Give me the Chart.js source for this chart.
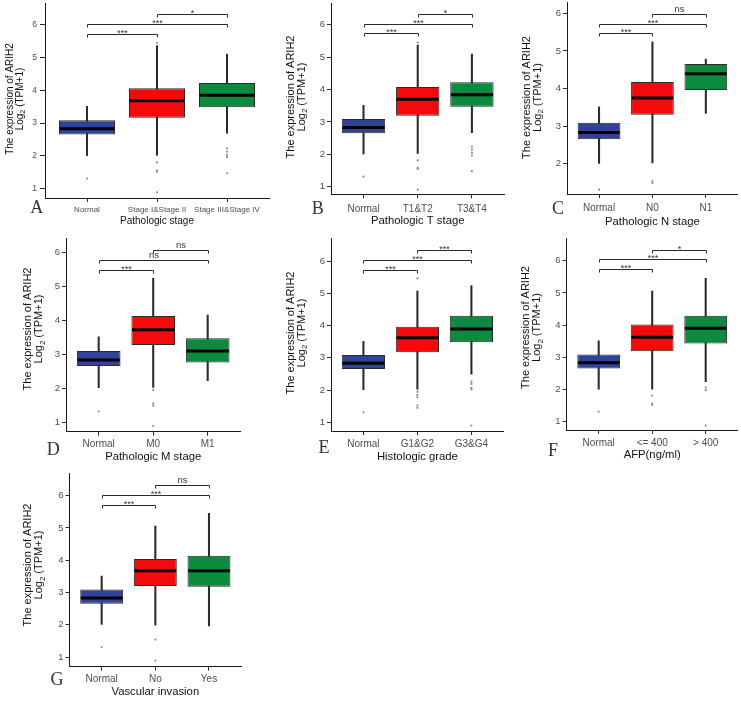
<!DOCTYPE html>
<html>
<head>
<meta charset="utf-8">
<script src="https://cdn.jsdelivr.net/npm/chart.js@4.4.0/dist/chart.umd.min.js"></script>
<style>
html,body{margin:0;padding:0;background:#fff;width:741px;height:702px;overflow:hidden;}
canvas{position:absolute;left:0;top:0;}
</style>
</head>
<body>
<canvas id="cA" width="741" height="702"></canvas>
<canvas id="cB" width="741" height="702"></canvas>
<canvas id="cC" width="741" height="702"></canvas>
<canvas id="cD" width="741" height="702"></canvas>
<canvas id="cE" width="741" height="702"></canvas>
<canvas id="cF" width="741" height="702"></canvas>
<canvas id="cG" width="741" height="702"></canvas>
<script>
// ---------- DATA ----------
// box stats: [lower whisker, Q1, median, Q3, upper whisker]
const groupColors = ['#31429a', '#f40a0a', '#0c8a3d'];
const sigPairs = [[1, 2], [1, 3], [2, 3]];
const yTitleLine1 = 'The expression of ARIH2';
const yTitleLine2 = ['Log', '2', ' (TPM+1)'];

const normalBox = [2.01, 2.65, 2.83, 3.09, 3.51];
const normalOut = [1.31];

const catsA = ['Normal', 'Stage I&Stage II', 'Stage III&Stage IV'];
const boxA = [normalBox, [2.02, 3.16, 3.68, 4.06, 5.36], [2.69, 3.48, 3.85, 4.22, 5.10]];
const outA = [normalOut, [5.45, 1.80, 1.55, 1.52, 0.89], [2.23, 2.13, 2.03, 1.96, 1.47]];
const sigA = ['***', '***', '*'];
const sigYA = [5.71, 6.03, 6.33];
const yTicksA = [1, 2, 3, 4, 5, 6];

const catsB = ['Normal', 'T1&T2', 'T3&T4'];
const boxB = [normalBox, [2.03, 3.19, 3.70, 4.08, 5.37], [2.67, 3.47, 3.84, 4.22, 5.09]];
const outB = [normalOut, [5.45, 1.81, 1.58, 1.55, 0.91], [2.23, 2.14, 2.05, 1.96, 1.48]];
const sigB = ['***', '***', '*'];
const sigYB = [5.73, 6.03, 6.33];
const yTicksB = [1, 2, 3, 4, 5, 6];

const catsC = ['Normal', 'N0', 'N1'];
const boxC = [normalBox, [2.02, 3.30, 3.75, 4.17, 5.24], [3.34, 3.96, 4.39, 4.65, 4.78]];
const outC = [normalOut, [1.54, 1.49], []];
const sigC = ['***', '***', 'ns'];
const sigYC = [5.47, 5.72, 5.99];
const yTicksC = [2, 3, 4, 5, 6];

const catsD = ['Normal', 'M0', 'M1'];
const boxD = [normalBox, [2.02, 3.27, 3.72, 4.12, 5.23], [2.22, 2.75, 3.09, 3.47, 4.15]];
const outD = [normalOut, [1.94, 1.55, 1.48, 0.88], []];
const sigD = ['***', 'ns', 'ns'];
const sigYD = [5.48, 5.78, 6.06];
const yTicksD = [1, 2, 3, 4, 5, 6];

const catsE = ['Normal', 'G1&G2', 'G3&G4'];
const boxE = [normalBox, [2.03, 3.17, 3.62, 3.96, 5.07], [2.49, 3.48, 3.89, 4.30, 5.24]];
const outE = [normalOut, [5.46, 1.95, 1.85, 1.77, 1.52, 1.45], [2.26, 2.19, 2.07, 2.02, 0.90]];
const sigE = ['***', '***', '***'];
const sigYE = [5.73, 6.03, 6.34];
const yTicksE = [1, 2, 3, 4, 5, 6];

const catsF = ['Normal', '<= 400', '> 400'];
const boxF = [normalBox, [2.01, 3.19, 3.62, 4.02, 5.06], [2.24, 3.43, 3.90, 4.29, 5.45]];
const outF = [normalOut, [1.81, 1.56, 1.52], [2.06, 1.98, 0.88]];
const sigF = ['***', '***', '*'];
const sigYF = [5.73, 6.05, 6.34];
const yTicksF = [1, 2, 3, 4, 5, 6];

const catsG = ['Normal', 'No', 'Yes'];
const boxG = [normalBox, [1.99, 3.20, 3.67, 4.04, 5.06], [1.96, 3.18, 3.67, 4.14, 5.45]];
const outG = [normalOut, [1.54, 0.89], []];
const sigG = ['***', '***', 'ns'];
const sigYG = [5.71, 6.02, 6.33];
const yTicksG = [1, 2, 3, 4, 5, 6];

// ---------- LAYOUT (pixels / styles) ----------
const W = 741, H = 702;
const FONT = '"Liberation Sans", Arial, Helvetica, sans-serif';
const SERIF = '"Liberation Serif", "Times New Roman", serif';

const small = {fTickY: 8.5, fTickX: 8, fTitle: 10, fYTitle: 10, fSig: 9, fNs: 9.5, yTl: 5, yPad: 3};
const big = {fTickY: 9.5, fTickX: 10, fTitle: 11.3, fYTitle: 11, fSig: 9, fNs: 9.5, yTl: 4, yPad: 2};

const panels = [
  {id: 'cA', letter: 'A', title: 'Pathologic stage', cats: catsA, boxes: boxA, outs: outA, sig: sigA, sigY: sigYA, yTicks: yTicksA,
   lay: Object.assign({}, small, {axL: 45, sp: 70, axT: 3, axB: 198, t1: [6, 24.7], t2: [1, 188.7], xPad: 3.2, yt1x: 10.5, yt2x: 20, ytc: 99, xtY: 221.7, lx: 36.7, ly: 208})},
  {id: 'cB', letter: 'B', title: 'Pathologic T stage', cats: catsB, boxes: boxB, outs: outB, sig: sigB, sigY: sigYB, yTicks: yTicksB,
   lay: Object.assign({}, big, {axL: 331, sp: 54.2, axT: 3, axB: 194.3, t1: [6, 24.7], t2: [1, 186.7], xPad: 4.7, yt1x: 290.7, yt2x: 301.5, ytc: 97, xtY: 221, lx: 317.8, ly: 209})},
  {id: 'cC', letter: 'C', title: 'Pathologic N stage', cats: catsC, boxes: boxC, outs: outC, sig: sigC, sigY: sigYC, yTicks: yTicksC,
   lay: Object.assign({}, big, {axL: 567, sp: 53.4, axT: 2, axB: 194, t1: [6, 13.3], t2: [2, 163.7], xPad: 4.3, yt1x: 526.7, yt2x: 537.5, ytc: 97.5, xtY: 221.7, lx: 558, ly: 209.5})},
  {id: 'cD', letter: 'D', title: 'Pathologic M stage', cats: catsD, boxes: boxD, outs: outD, sig: sigD, sigY: sigYD, yTicks: yTicksD,
   lay: Object.assign({}, big, {axL: 66, sp: 54.5, axT: 238, axB: 431.7, t1: [6, 252.3], t2: [1, 422], xPad: 2.6, yt1x: 28.3, yt2x: 39, ytc: 329, xtY: 456.7, lx: 53.3, ly: 450})},
  {id: 'cE', letter: 'E', title: 'Histologic grade', cats: catsE, boxes: boxE, outs: outE, sig: sigE, sigY: sigYE, yTicks: yTicksE,
   lay: Object.assign({}, big, {axL: 331, sp: 54, axT: 238, axB: 431, t1: [6, 261], t2: [1, 422.3], xPad: 3.5, yt1x: 290.7, yt2x: 301.5, ytc: 333, xtY: 456.7, lx: 324, ly: 448.7})},
  {id: 'cF', letter: 'F', title: 'AFP(ng/ml)', cats: catsF, boxes: boxF, outs: outF, sig: sigF, sigY: sigYF, yTicks: yTicksF,
   lay: Object.assign({}, big, {axL: 566.6, sp: 53.5, axT: 238.3, axB: 430, t1: [6, 260.7], t2: [1, 421.7], xPad: 3.5, yt1x: 526, yt2x: 537, ytc: 327.5, xtY: 455, lx: 553, ly: 450.8})},
  {id: 'cG', letter: 'G', title: 'Vascular invasion', cats: catsG, boxes: boxG, outs: outG, sig: sigG, sigY: sigYG, yTicks: yTicksG,
   lay: Object.assign({}, big, {axL: 69.5, sp: 53.65, axT: 473.3, axB: 666.7, t1: [6, 495.7], t2: [1, 657], xPad: 2.8, yt1x: 28.3, yt2x: 39, ytc: 565, xtY: 691.7, lx: 57, ly: 680})}
];

function font(sz) { return sz + 'px ' + FONT; }

function annotPlugin(p) {
  return {
    id: 'annot' + p.letter,
    afterDraw(chart) {
      const ctx = chart.ctx, L = p.lay;
      const xs = chart.scales.x, ys = chart.scales.y;
      ctx.save();
      // significance brackets
      ctx.strokeStyle = '#2b2b2b';
      ctx.lineWidth = 1;
      p.sigY.forEach((yv, k) => {
        const pr = sigPairs[k];
        const x1 = Math.round(xs.getPixelForValue(pr[0])) + 0.5;
        const x2 = Math.round(xs.getPixelForValue(pr[1])) + 0.5;
        const y = Math.round(ys.getPixelForValue(yv)) + 0.5;
        ctx.beginPath();
        ctx.moveTo(x1, y + 3);
        ctx.lineTo(x1, y);
        ctx.lineTo(x2, y);
        ctx.lineTo(x2, y + 3);
        ctx.stroke();
        const lab = p.sig[k];
        ctx.fillStyle = '#333';
        ctx.textAlign = 'center';
        ctx.textBaseline = 'alphabetic';
        if (lab === 'ns') {
          ctx.font = font(L.fNs);
          ctx.fillText(lab, (x1 + x2) / 2, y - 2.2);
        } else {
          ctx.font = font(L.fSig);
          ctx.fillText(lab, (x1 + x2) / 2, y + 1.5);
        }
      });
      // x axis title
      ctx.fillStyle = '#111';
      ctx.font = font(L.fTitle);
      ctx.textAlign = 'center';
      ctx.textBaseline = 'middle';
      ctx.fillText(p.title, (chart.chartArea.left + chart.chartArea.right) / 2, L.xtY);
      // y axis title line 1
      ctx.save();
      ctx.translate(L.yt1x, L.ytc);
      ctx.rotate(-Math.PI / 2);
      ctx.font = font(L.fYTitle);
      ctx.fillText(yTitleLine1, 0, 0);
      ctx.restore();
      // y axis title line 2 with subscript
      ctx.save();
      ctx.translate(L.yt2x, L.ytc);
      ctx.rotate(-Math.PI / 2);
      const f = L.fYTitle, fs = f * 0.72;
      ctx.font = font(f);
      const w1 = ctx.measureText(yTitleLine2[0]).width;
      const w3 = ctx.measureText(yTitleLine2[2]).width;
      ctx.font = font(fs);
      const w2 = ctx.measureText(yTitleLine2[1]).width;
      let x = -(w1 + w2 + w3) / 2;
      ctx.textAlign = 'left';
      ctx.font = font(f);
      ctx.fillText(yTitleLine2[0], x, 0); x += w1;
      ctx.font = font(fs);
      ctx.fillText(yTitleLine2[1], x, f * 0.32); x += w2;
      ctx.font = font(f);
      ctx.fillText(yTitleLine2[2], x, 0);
      ctx.restore();
      // panel letter
      ctx.fillStyle = '#333';
      ctx.font = '18px ' + SERIF;
      ctx.textAlign = 'center';
      ctx.textBaseline = 'middle';
      ctx.fillText(p.letter, L.lx, L.ly);
      ctx.restore();
    }
  };
}

function makeChart(p) {
  const L = p.lay;
  const ppu = (L.t2[1] - L.t1[1]) / (L.t1[0] - L.t2[0]);
  const yMax = L.t1[0] + (L.t1[1] - L.axT) / ppu;
  const yMin = L.t2[0] - (L.axB - L.t2[1]) / ppu;
  const right = L.axL + 3.2 * L.sp;
  const yW = 40, xH = 30;

  const whiskers = p.boxes.map((b, i) => ({x: i + 1, y: [b[0], b[4]]}));
  const boxes = p.boxes.map((b, i) => ({x: i + 1, y: [b[1], b[3]]}));
  const medians = p.boxes.map((b, i) => ({x: i + 1, y: b[2]}));
  const outliers = p.outs.flatMap((arr, i) => arr.map(v => ({x: i + 1, y: v})));

  new Chart(document.getElementById(p.id), {
    type: 'bar',
    data: {
      datasets: [
        {type: 'bar', order: 4, data: whiskers, backgroundColor: '#2b2b2b', borderWidth: 0,
         barThickness: 1.4, grouped: false},
        {type: 'bar', order: 3, data: boxes, backgroundColor: groupColors, borderColor: '#2b2b2b',
         borderWidth: 1, borderSkipped: false, grouped: false, categoryPercentage: 1, barPercentage: 0.8},
        {type: 'scatter', order: 2, data: medians, pointStyle: 'line', pointRadius: 0.4 * L.sp - 0.6,
         pointBorderWidth: 3, pointBorderColor: '#000', pointBackgroundColor: '#000', borderColor: '#000', clip: false},
        {type: 'scatter', order: 1, data: outliers, pointStyle: 'circle', pointRadius: 1.1,
         pointBorderWidth: 0, pointBackgroundColor: '#8f8f8f', pointBorderColor: '#8f8f8f', clip: false}
      ]
    },
    options: {
      responsive: false,
      animation: false,
      devicePixelRatio: 1,
      events: [],
      layout: {autoPadding: false, padding: {left: L.axL - yW, top: L.axT, right: W - right, bottom: H - L.axB - xH}},
      plugins: {legend: {display: false}, tooltip: {enabled: false}, title: {display: false}},
      scales: {
        x: {
          type: 'linear', min: 0.4, max: 3.6, offset: false,
          afterBuildTicks: s => { s.ticks = [1, 2, 3].map(v => ({value: v})); },
          afterFit: s => { s.height = xH; s.paddingLeft = 0; s.paddingRight = 0; s.paddingTop = 0; s.paddingBottom = 0; },
          ticks: {callback: (v) => p.cats[Math.round(v) - 1], font: {family: FONT, size: L.fTickX},
                  color: '#4d4d4d', padding: L.xPad, maxRotation: 0, minRotation: 0, autoSkip: false},
          grid: {display: true, offset: false, drawOnChartArea: false, drawTicks: true, tickLength: 4, color: '#2b2b2b', lineWidth: 1},
          border: {display: true, color: '#1a1a1a', width: 1}
        },
        y: {
          type: 'linear', min: yMin, max: yMax,
          afterBuildTicks: s => { s.ticks = p.yTicks.map(v => ({value: v})); },
          afterFit: s => { s.width = yW; s.paddingLeft = 0; s.paddingRight = 0; s.paddingTop = 0; s.paddingBottom = 0; },
          ticks: {font: {family: FONT, size: L.fTickY}, color: '#4d4d4d', padding: L.yPad},
          grid: {display: true, drawOnChartArea: false, drawTicks: true, tickLength: L.yTl, color: '#2b2b2b', lineWidth: 1},
          border: {display: true, color: '#1a1a1a', width: 1}
        }
      }
    },
    plugins: [annotPlugin(p)]
  });
}

panels.forEach(makeChart);
</script>
</body>
</html>
